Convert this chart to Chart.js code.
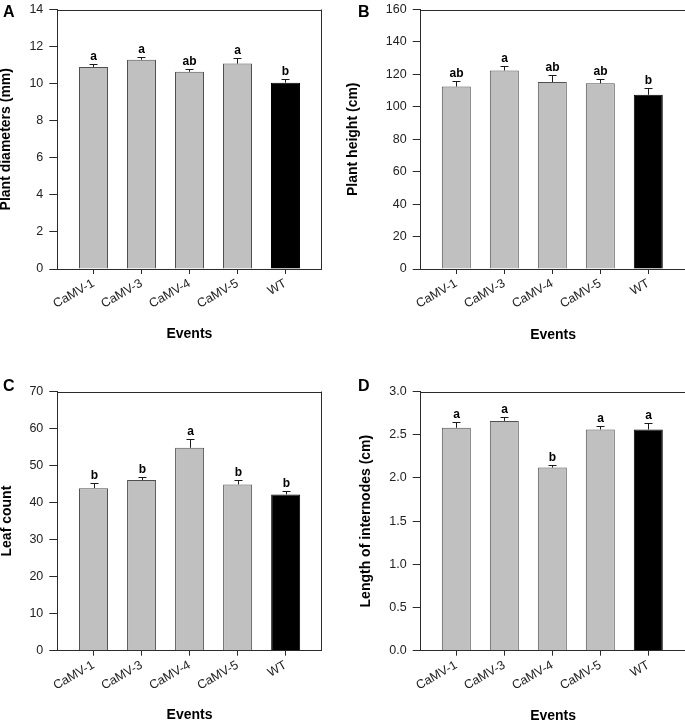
<!DOCTYPE html>
<html><head><meta charset="utf-8">
<script src="https://cdn.jsdelivr.net/npm/chart.js@4/dist/chart.umd.min.js"></script>
<style>
html,body{margin:0;padding:0;background:#fff;}
body{width:685px;height:722px;overflow:hidden;position:relative;font-family:'Liberation Sans',Arial,sans-serif;}
.panel{position:absolute;}
.panel canvas{display:block;}
.letter{position:absolute;font-weight:bold;font-size:16px;line-height:16px;color:#000;}
</style></head><body>
<div class="panel" id="pA"><canvas id="cA"></canvas></div>
<div class="panel" id="pB"><canvas id="cB"></canvas></div>
<div class="panel" id="pC"><canvas id="cC"></canvas></div>
<div class="panel" id="pD"><canvas id="cD"></canvas></div>
<div class="letter" style="left:3px;top:4px">A</div>
<div class="letter" style="left:358px;top:4px">B</div>
<div class="letter" style="left:3px;top:378px">C</div>
<div class="letter" style="left:358px;top:378px">D</div>
<script>
const categories = ['CaMV-1', 'CaMV-3', 'CaMV-4', 'CaMV-5', 'WT'];

const diameterMean = [10.90, 11.29, 10.64, 11.08, 10.05];
const diameterErr  = [0.14, 0.14, 0.16, 0.28, 0.20];
const diameterSig  = ['a', 'a', 'ab', 'a', 'b'];
const diameterTicks = [0, 2, 4, 6, 8, 10, 12, 14];

const heightMean = [112.5, 122.4, 115.3, 114.5, 107.4];
const heightErr  = [3.7, 3.0, 4.3, 2.5, 4.1];
const heightSig  = ['ab', 'a', 'ab', 'ab', 'b'];
const heightTicks = [0, 20, 40, 60, 80, 100, 120, 140, 160];

const leafMean = [43.9, 46.1, 54.8, 44.9, 42.2];
const leafErr  = [1.4, 0.7, 2.4, 1.1, 1.0];
const leafSig  = ['b', 'b', 'a', 'b', 'b'];
const leafTicks = [0, 10, 20, 30, 40, 50, 60, 70];

const internodeMean = [2.58, 2.66, 2.12, 2.56, 2.56];
const internodeErr  = [0.07, 0.05, 0.035, 0.045, 0.07];
const internodeSig  = ['a', 'a', 'b', 'a', 'a'];
const internodeTicks = [0, 0.5, 1.0, 1.5, 2.0, 2.5, 3.0];

const FONT = "'Liberation Sans', Arial, sans-serif";
const AXIS = '#2b2b2b';

const errPlugin = {
  id: 'errBars',
  afterDatasetsDraw(chart, args, opts) {
    const {ctx, chartArea: a} = chart;
    const x = chart.scales.x, y = chart.scales.y;
    const pts = chart.data.datasets[0].data;
    ctx.save();
    ctx.lineWidth = 1;
    ctx.strokeStyle = '#1a1a1a';
    pts.forEach((d, i) => {
      const px = Math.round(x.getPixelForValue(d.x)) + 0.5;
      const y0 = y.getPixelForValue(d.y);
      const y1 = Math.round(y.getPixelForValue(d.y + opts.err[i])) + 0.5;
      ctx.beginPath();
      ctx.moveTo(px, y0);
      ctx.lineTo(px, y1);
      ctx.moveTo(px - 4, y1);
      ctx.lineTo(px + 4, y1);
      ctx.stroke();
      ctx.fillStyle = '#000';
      ctx.font = 'bold 12px ' + FONT;
      ctx.textAlign = 'center';
      ctx.textBaseline = 'alphabetic';
      ctx.fillText(opts.sig[i], px, y1 - 5);
    });
    ctx.strokeStyle = AXIS;
    ctx.beginPath();
    ctx.moveTo(a.left, Math.round(a.top) + 0.5);
    ctx.lineTo(a.right, Math.round(a.top) + 0.5);
    ctx.moveTo(Math.round(a.right) - 0.5, a.top);
    ctx.lineTo(Math.round(a.right) - 0.5, a.bottom);
    ctx.stroke();
    ctx.restore();
  }
};

function makePanel(g, means, errs, sigs, yTicks, yTitle, decimals) {
  const wrap = document.getElementById(g.wrap);
  wrap.style.left = g.left + 'px';
  wrap.style.top = g.top + 'px';
  const canvas = document.getElementById(g.canvas);
  canvas.width = g.w; canvas.height = g.h;
  canvas.style.width = g.w + 'px'; canvas.style.height = g.h + 'px';
  const points = categories.map((c, i) => ({x: i, y: means[i]}));
  return new Chart(canvas, {
    type: 'bar',
    data: {
      datasets: [{
        data: points,
        backgroundColor: categories.map(c => c === 'WT' ? '#000000' : '#c0c0c0'),
        borderColor: categories.map(c => c === 'WT' ? '#000000' : '#505050'),
        borderWidth: 1,
        borderSkipped: 'bottom',
        barPercentage: 0.604,
        categoryPercentage: 1
      }]
    },
    options: {
      responsive: false,
      maintainAspectRatio: false,
      animation: false,
      events: [],
      layout: {padding: {top: 10, left: 0, right: g.padRight, bottom: 0}},
      plugins: {
        legend: {display: false},
        tooltip: {enabled: false},
        errBars: {err: errs, sig: sigs}
      },
      scales: {
        x: {
          type: 'linear',
          offset: false,
          min: g.xmin, max: g.xmax,
          afterBuildTicks: s => { s.ticks = categories.map((c, i) => ({value: i})); },
          afterFit: s => { s.height = g.xh; },
          ticks: {
            autoSkip: false,
            minRotation: 30, maxRotation: 30,
            padding: 2,
            color: '#222',
            font: {family: FONT, size: 12.5},
            callback: v => categories[v]
          },
          grid: {display: true, offset: false, drawOnChartArea: false, drawTicks: true, tickLength: 5, color: AXIS},
          border: {display: true, color: AXIS, width: 1},
          title: {display: true, text: 'Events', color: '#000',
                  font: {family: FONT, size: 14, weight: 'bold', lineHeight: 1},
                  padding: {top: 0, bottom: g.xtPad}}
        },
        y: {
          type: 'linear',
          min: yTicks[0], max: yTicks[yTicks.length - 1],
          afterBuildTicks: s => { s.ticks = yTicks.map(v => ({value: v})); },
          afterFit: s => { s.width = g.yw; },
          ticks: {
            padding: 6,
            color: '#222',
            font: {family: FONT, size: 12.5},
            callback: v => v.toFixed(decimals)
          },
          grid: {display: true, drawOnChartArea: false, drawTicks: true, tickLength: 8, color: AXIS},
          border: {display: true, color: AXIS, width: 1},
          title: {display: true, text: yTitle, color: '#000',
                  font: {family: FONT, size: 14, weight: 'bold', lineHeight: 1},
                  padding: {top: g.ytPad, bottom: 0}}
        }
      }
    },
    plugins: [errPlugin]
  });
}

makePanel({wrap: 'pA', canvas: 'cA', left: 0, top: -4, w: 342, h: 350, padRight: 20.5,
           yw: 57.3, xh: 77, xtPad: 5, ytPad: -0.5, xmin: -0.754, xmax: 4.75},
          diameterMean, diameterErr, diameterSig, diameterTicks, 'Plant diameters (mm)', 0);
makePanel({wrap: 'pB', canvas: 'cB', left: 340, top: -4, w: 356, h: 350, padRight: 10.5,
           yw: 80.7, xh: 77, xtPad: 4, ytPad: 6.3, xmin: -0.742, xmax: 4.775},
          heightMean, heightErr, heightSig, heightTicks, 'Plant height (cm)', 0);
makePanel({wrap: 'pC', canvas: 'cC', left: 0, top: 378, w: 342, h: 350, padRight: 20.3,
           yw: 57.3, xh: 77.3, xtPad: 5.5, ytPad: 0.5, xmin: -0.754, xmax: 4.75},
          leafMean, leafErr, leafSig, leafTicks, 'Leaf count', 0);
makePanel({wrap: 'pD', canvas: 'cD', left: 340, top: 378, w: 356, h: 350, padRight: 10.5,
           yw: 80.7, xh: 77.3, xtPad: 5, ytPad: 19.5, xmin: -0.742, xmax: 4.775},
          internodeMean, internodeErr, internodeSig, internodeTicks, 'Length of internodes (cm)', 1);
</script>
</body></html>
